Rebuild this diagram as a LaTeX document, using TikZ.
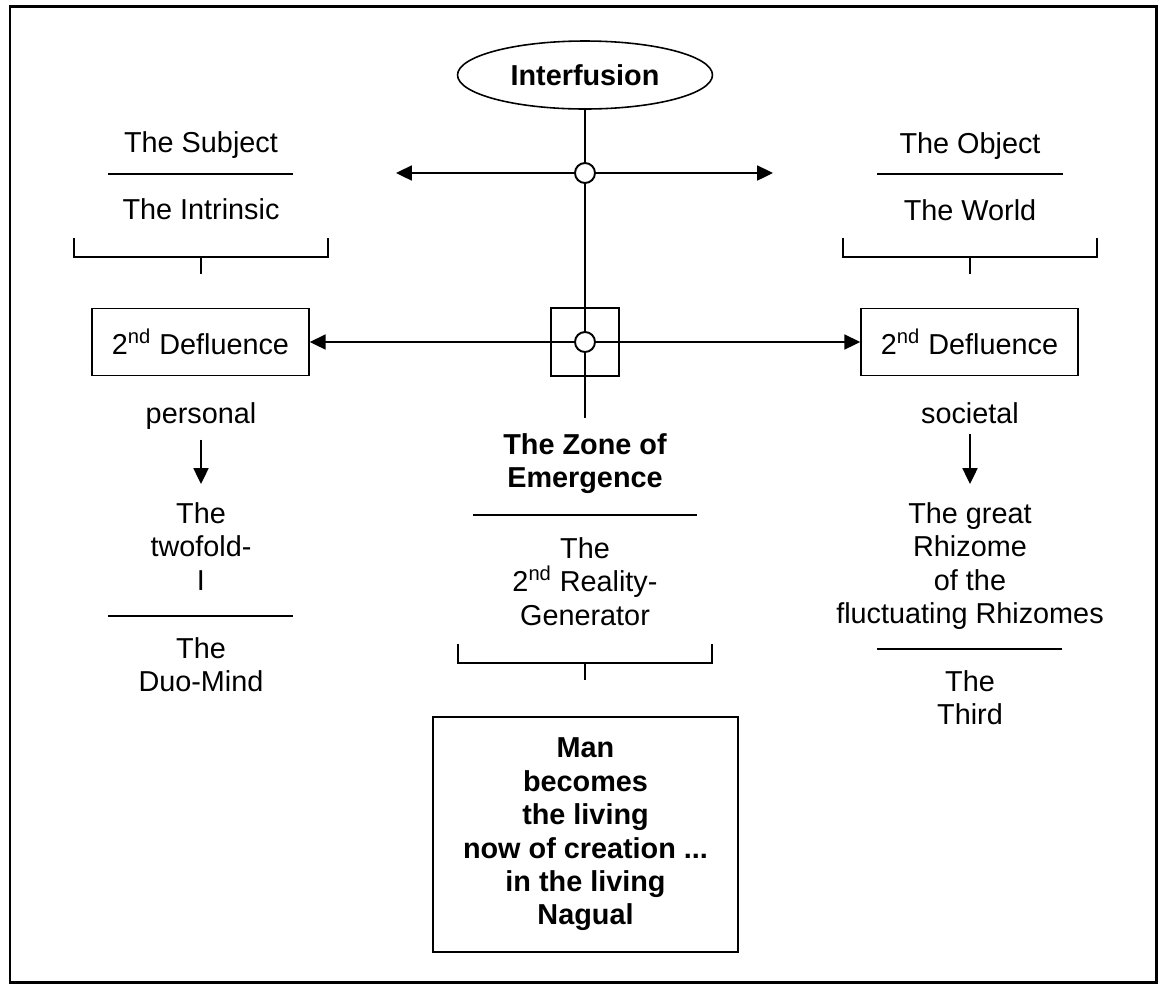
\documentclass[tikz,border=0pt]{standalone}
\usepackage{fontspec}
\setmainfont{Liberation Sans}
\usepackage{tikz}
\usetikzlibrary{arrows.meta,shapes.geometric,backgrounds}

\begin{document}
\begin{tikzpicture}[x=0.02cm,y=-0.02cm,
  every node/.style={inner sep=0pt,font=\fontsize{16.4}{19}\selectfont},
  txt/.style={align=center,anchor=north},
  boldtxt/.style={align=center,font=\fontsize{16.4}{19}\selectfont\bfseries},
  defbox/.style={draw,line width=0.9pt,minimum width=4.34cm,minimum height=1.34cm},
  hub/.style={circle,draw,fill=white,line width=1.1pt,minimum size=0.4cm},
  conn/.style={line width=1.1pt},
  arr/.style={conn,-{Triangle[length=9pt,width=8.5pt]}},
  sepline/.style={line width=0.9pt}]
 \useasboundingbox (0,0) rectangle (1160,985);
 \draw[line width=1.7pt] (10,6) rectangle (1156,982);

 % middle axis
 \draw (585,75) node[ellipse,draw,line width=0.9pt,minimum width=5.1cm,minimum height=1.36cm,boldtxt] (interfusion) {Interfusion};
 \draw (585,342) node[draw,line width=0.9pt,minimum size=1.36cm] (zone) {};
 \draw (585,173) node[hub] (hub1) {};
 \draw (585,342) node[hub] (hub2) {};
 \coordinate (westtip) at (396,173);
 \coordinate (easttip) at (773,173);
 \coordinate (vend) at (585,418);

 % the two sides
 \draw (201,131) node[txt] (subject) {The Subject};
 \draw (201,198) node[txt] (intrinsic) {The Intrinsic};
 \draw (970,132) node[txt] (object) {The Object};
 \draw (970,199) node[txt] (world) {The World};
 \draw (200.5,342) node[defbox] (defl) {2\textsuperscript{nd} Defluence};
 \draw (969.5,342) node[defbox] (defr) {2\textsuperscript{nd} Defluence};
 \draw (201,402) node[txt] (personal) {personal};
 \draw (201,502) node[txt] (twofold) {The\\twofold-\\I};
 \draw (201,637) node[txt] (duomind) {The\\Duo-Mind};
 \draw (970,402) node[txt] (societal) {societal};
 \draw (970,502) node[txt] (rhizome) {The great\\Rhizome\\of the\\fluctuating Rhizomes};
 \draw (970,670) node[txt] (third) {The\\Third};

 % the zone
 \draw (585,433) node[txt,boldtxt] (zonetxt) {The Zone of\\Emergence};
 \draw (585,537) node[txt] (generator) {The\\2\textsuperscript{nd} Reality-\\Generator};
 \draw (585.5,834.5) node[draw,line width=0.9pt,minimum width=6.1cm,minimum height=4.7cm,boldtxt] (nagual) {Man\\becomes\\the living\\now of creation ...\\in the living\\Nagual};

 \path[conn] (interfusion) edge (hub1) (hub1) edge (hub2) (hub2) edge (vend);
 \draw[arr] (hub1) -- (westtip);
 \draw[arr] (hub1) -- (easttip);
 \draw[arr] (hub2) -- (defl);
 \draw[arr] (hub2) -- (defr);
 \draw[arr,shorten <=0.2cm,shorten >=0.36cm] (personal) -- (twofold);
 \draw[arr,shorten <=0.2cm,shorten >=0.36cm] (societal) -- (rhizome);

 % rules and brackets
 \draw[sepline] (108,174) -- (293,174);
 \draw[sepline] (877,174) -- (1063,174);
 \draw[sepline] (108,616) -- (293,616);
 \draw[sepline] (877,649) -- (1062,649);
 \draw[sepline] (473,515) -- (697,515);
 \draw[sepline] (74,238) -- (74,257) -- (328,257) -- (328,238) (201,257) -- (201,274);
 \draw[sepline] (843,238) -- (843,257) -- (1097,257) -- (1097,238) (970,257) -- (970,274);
 \draw[sepline] (458,644) -- (458,663) -- (712,663) -- (712,644) (585,663) -- (585,680);
\end{tikzpicture}
\end{document}
